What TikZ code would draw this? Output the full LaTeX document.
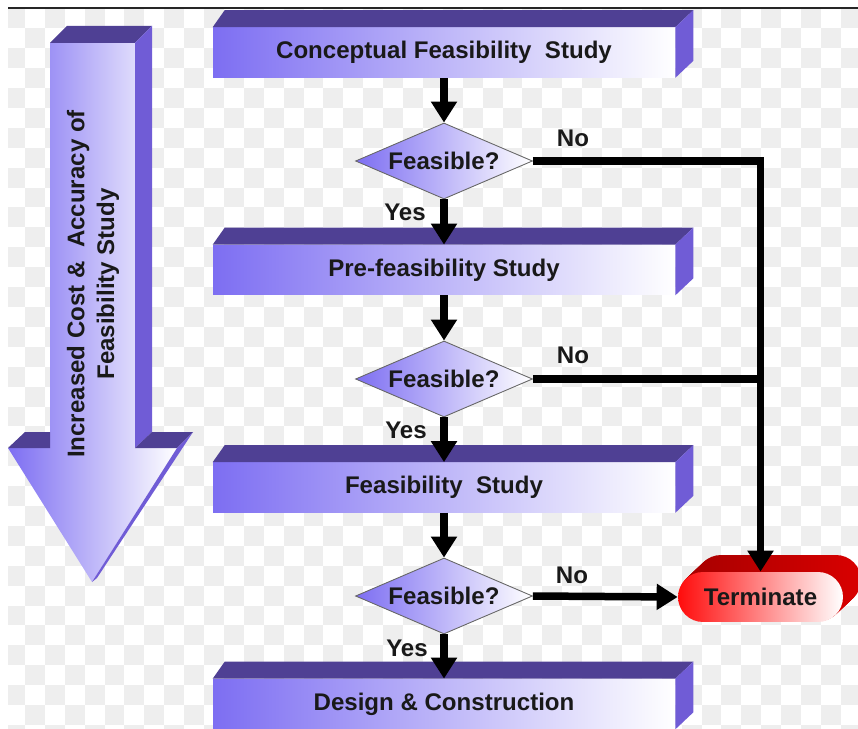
\documentclass[tikz,border=0pt]{standalone}
\usepackage{fontspec}
\setmainfont{Liberation Sans}
\usetikzlibrary{shapes.geometric,shapes.misc,arrows.meta,calc}

\definecolor{topface}{RGB}{79,64,148}
\definecolor{sideface}{RGB}{112,92,214}
\definecolor{boxleft}{RGB}{125,110,242}
\definecolor{termleft}{RGB}{255,12,12}
\definecolor{termtop}{RGB}{170,0,0}
\definecolor{checker}{RGB}{238,238,238}

\tikzset{
  txt/.style={font=\fontsize{13.7}{17}\selectfont\bfseries, text=black!90},
  stage/.style={txt, rectangle, minimum width=9.24cm, minimum height=1cm, inner sep=0pt,
    left color=boxleft, right color=white},
  decision/.style={txt, diamond, aspect=2.33, minimum width=3.54cm, minimum height=1.52cm,
    inner sep=0pt, draw=black!60, line width=0.5pt, left color=boxleft, right color=white},
  endbox/.style={txt, rounded rectangle, minimum width=3.3cm, minimum height=1cm,
    inner sep=0pt, left color=termleft, right color=white},
  flow/.style={line width=0.15cm, -{Triangle[width=0.5cm,length=0.42cm]}},
  branch/.style={line width=0.15cm},
}

\begin{document}
\begin{tikzpicture}[x=0.02cm,y=0.02cm]
    \useasboundingbox (0,0) rectangle (858,-729);

    % checker background
    \begin{scope}
    \clip (8,-9) rectangle (858,-729);
    \foreach \i in {0,2,...,42}
      \foreach \j in {0,2,...,36} {
        \fill[checker] (5+\i*19.9,-8.5-\j*19.9) rectangle ++(19.9,-19.9);
        \fill[checker] (5+\i*19.9+19.9,-8.5-\j*19.9-19.9) rectangle ++(19.9,-19.9);
      }
    \end{scope}
    \draw[line width=0.04cm, black!85] (8,-8) -- (858,-8);

    % big arrow on the left
    \shade[left color=boxleft, right color=white] (50,-43) -- (135,-43) -- (135,-448) -- (177,-448)
        -- (92,-582) -- (8,-448) -- (50,-448) -- cycle;
    \fill[topface] (50,-43) -- (67,-26) -- (152,-26) -- (135,-43) -- cycle;
    \fill[sideface] (135,-43) -- (152,-26) -- (152,-432) -- (135,-448) -- cycle;
    \fill[topface] (8,-448) -- (25,-432) -- (50,-432) -- (50,-448) -- cycle;
    \fill[topface] (135,-448) -- (152,-432) -- (193,-432) -- (177,-448) -- cycle;
    \fill[sideface] (177,-448) -- (193,-432) -- (97,-578) -- (92,-582) -- cycle;
    \node[txt, rotate=90, align=center] (cost) at (93,-284)
        {Increased Cost \&~~Accuracy of\\Feasibility Study};

    % stages
    \node[stage] (b1) at (444,-52.5) {Conceptual Feasibility~~Study};
    \node[stage] (b2) at (444,-270) {Pre-feasibility Study};
    \node[stage] (b3) at (444,-487.5) {Feasibility~~Study};
    \node[stage] (b4) at (444,-704) {Design \& Construction};
    \foreach \b in {b1,b2,b3,b4} {
        \fill[topface] (\b.north west) -- ++(12,17) -- ($(\b.north east)+(18,17)$) -- (\b.north east) -- cycle;
        \fill[sideface] (\b.north east) -- ++(18,17) -- ($(\b.south east)+(18,17)$) -- (\b.south east) -- cycle;
    }

    % decisions
    \node[decision] (d1) at (444,-161) {Feasible?};
    \node[decision] (d2) at (444,-379) {Feasible?};
    \node[decision] (d3) at (444,-596) {Feasible?};

    % terminate
    \foreach \k in {1,...,18}
        \shade[left color=termtop, right color=red!85!black, rounded corners=0.5cm]
            ($(678,-622)+(\k,\k*17/18)$) rectangle ($(843,-572)+(\k,\k*17/18)$);
    \node[endbox] (t) at (760.5,-597) {Terminate};

    % connectors
    \draw[flow] (b1) -- (d1);
    \draw[flow] (d1) -- (b2);
    \draw[flow] (b2) -- (d2);
    \draw[flow] (d2) -- (b3);
    \draw[flow] (b3) -- (d3);
    \draw[flow] (d3) -- (b4);
    \draw[flow] (d1.east) -| (t.north);
    \coordinate (j2) at (d2.east -| t.north);
    \draw[branch] (d2.east) -- (j2);
    \draw[flow] (d3.east) -- (t.west);

    \node[txt] (no1) at (573,-138) {No};
    \node[txt] (no2) at (573,-355) {No};
    \node[txt] (no3) at (572,-575) {No};
    \node[txt] (yes1) at (405,-212) {Yes};
    \node[txt] (yes2) at (406,-430) {Yes};
    \node[txt] (yes3) at (407,-648) {Yes};
\end{tikzpicture}
\end{document}
